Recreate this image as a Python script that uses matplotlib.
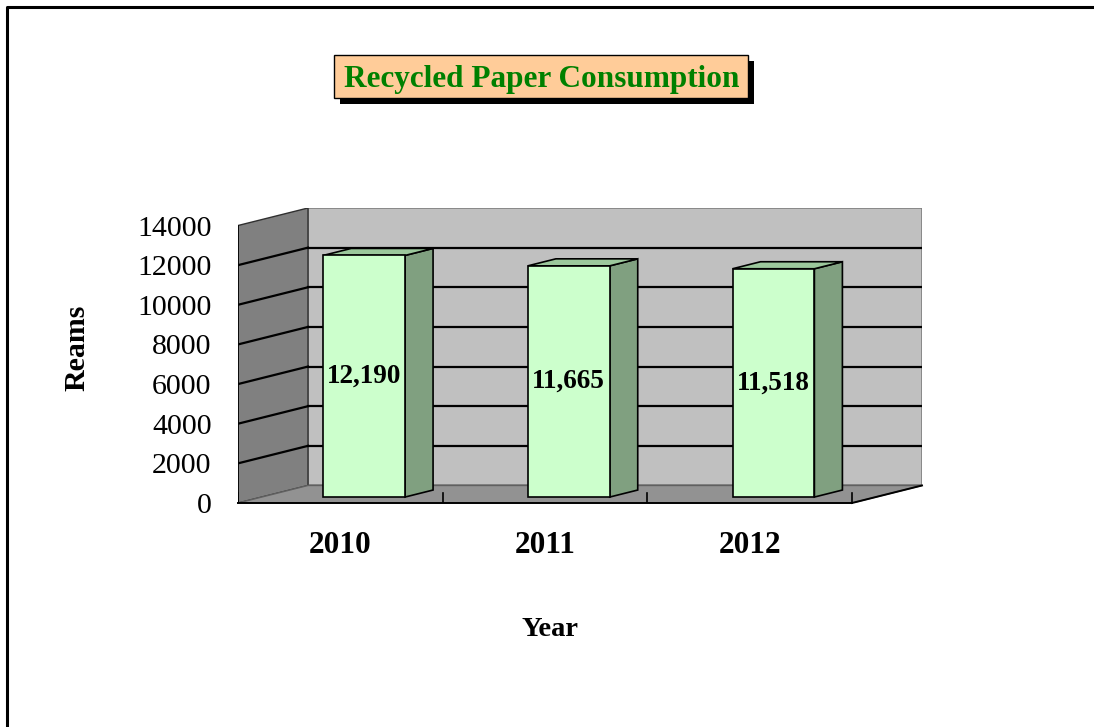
import matplotlib
matplotlib.use("Agg")
import matplotlib.pyplot as plt
from matplotlib.patches import Polygon, Rectangle
from matplotlib.lines import Line2D

# data
years = ["2010", "2011", "2012"]
reams = [12190, 11665, 11518]
value_labels = ["12,190", "11,665", "11,518"]
yticks = [0, 2000, 4000, 6000, 8000, 10000, 12000, 14000]

plt.rcParams["font.family"] = ["Liberation Serif", "DejaVu Serif"]

W, H = 1094, 727
fig = plt.figure(figsize=(W / 100, H / 100), dpi=100)

# 3d depth offset of the box, in data units
dx, dy = 0.342, 884
ymax = 14000

# axes spans the whole 3d box (front-left bottom to back-right top)
ax = fig.add_axes([238 / W, (H - 503) / H, 684 / W, 295 / H])
ax.set_xlim(-0.5, 2.5 + dx)
ax.set_ylim(0, ymax + dy)
ax.patch.set_visible(False)
for s in ax.spines.values():
    s.set_visible(False)

x0, x1 = -0.5, len(years) - 0.5

# back wall
ax.add_patch(Polygon([(x0 + dx, dy), (x1 + dx, dy), (x1 + dx, ymax + dy), (x0 + dx, ymax + dy)],
                     closed=True, fc="#c0c0c0", ec="#808080", lw=1.2, zorder=1))
# left wall
ax.add_patch(Polygon([(x0, 0), (x0 + dx, dy), (x0 + dx, ymax + dy), (x0, ymax)],
                     closed=True, fc="#808080", ec="#303030", lw=1, zorder=1))
# floor
ax.add_patch(Polygon([(x0, 0), (x1, 0), (x1 + dx, dy), (x0 + dx, dy)],
                     closed=True, fc="#929292", ec="#606060", lw=1, zorder=1))

# gridlines on back and left walls
for t in yticks[1:-1]:
    ax.plot([x0 + dx, x1 + dx], [t + dy, t + dy], color="black", lw=1.6, zorder=2)
    ax.plot([x0, x0 + dx], [t, t + dy], color="black", lw=1.6, zorder=2)

# category axis: front edge, right slanted edge, ticks
ax.plot([x0, x1], [0, 0], color="black", lw=1.4, zorder=2, clip_on=False)
ax.plot([x1, x1 + dx], [0, dy], color="black", lw=1.4, zorder=2, clip_on=False)
ax.plot([x0, x0], [0, ymax], color="black", lw=1.2, zorder=2)
for k in range(len(years) + 1):
    ax.plot([x0 + k, x0 + k], [0, 480], color="black", lw=1.2, zorder=2)

# bars
f = 0.34      # where the bar front sits inside the depth
bd = 0.40     # bar depth as share of box depth
w = 0.40
for i, v in enumerate(reams):
    bx = i + f * dx - w / 2
    by = f * dy
    ox, oy = bd * dx, bd * dy
    ax.add_patch(Polygon([(bx + w, by), (bx + w + ox, by + oy), (bx + w + ox, by + v + oy), (bx + w, by + v)],
                         closed=True, fc="#80a080", ec="black", lw=1.2, zorder=4))
    ax.add_patch(Polygon([(bx, by + v), (bx + w, by + v), (bx + w + ox, by + v + oy), (bx + ox, by + v + oy)],
                         closed=True, fc="#9cc89c", ec="black", lw=1.2, zorder=4))
    ax.add_patch(Rectangle((bx, by), w, v, fc="#ccffcc", ec="black", lw=1.2, zorder=5))
    ax.text(bx + w / 2, by + v / 2, value_labels[i], ha="center", va="center",
            fontsize=19.5, fontweight="bold", color="black", zorder=6)

# ticks and labels
ax.set_yticks(yticks)
ax.set_yticklabels([str(t) for t in yticks], fontsize=21.5)
ax.set_xticks(range(len(years)))
ax.set_xticklabels(years, fontsize=22.5, fontweight="bold")
ax.tick_params(axis="y", length=0, pad=19)
ax.tick_params(axis="x", length=0, pad=20)

fig.text(77 / W, 1 - 348 / H, "Reams", rotation=90, ha="center", va="center",
         fontsize=21.5, fontweight="bold")
fig.text(550 / W, 1 - 630 / H, "Year", ha="center", va="center",
         fontsize=20.5, fontweight="bold")

# title box with drop shadow
bl, bt, br, bb = 334, 55, 748, 98
sh = 6
fig.patches.append(Rectangle(((bl + sh) / W, 1 - (bb + sh) / H), (br - bl) / W, (bb - bt) / H,
                             transform=fig.transFigure, fc="black", ec="none", zorder=1))
fig.patches.append(Rectangle((bl / W, 1 - bb / H), (br - bl) / W, (bb - bt) / H,
                             transform=fig.transFigure, fc="#ffcc99", ec="black", lw=1, zorder=2))
fig.text((bl + br) / 2 / W + 0.5 / W, 1 - 79 / H, "Recycled Paper Consumption",
         ha="center", va="center", fontsize=22.5, fontweight="bold", color="#008000", zorder=3)

# outer frame (left and top edges only)
fig.lines.append(Line2D([7 / W, 7 / W, 1], [0, 1 - 7 / H, 1 - 7 / H],
                        transform=fig.transFigure, color="black", lw=2.2))

fig.savefig("out.png", dpi=100)
